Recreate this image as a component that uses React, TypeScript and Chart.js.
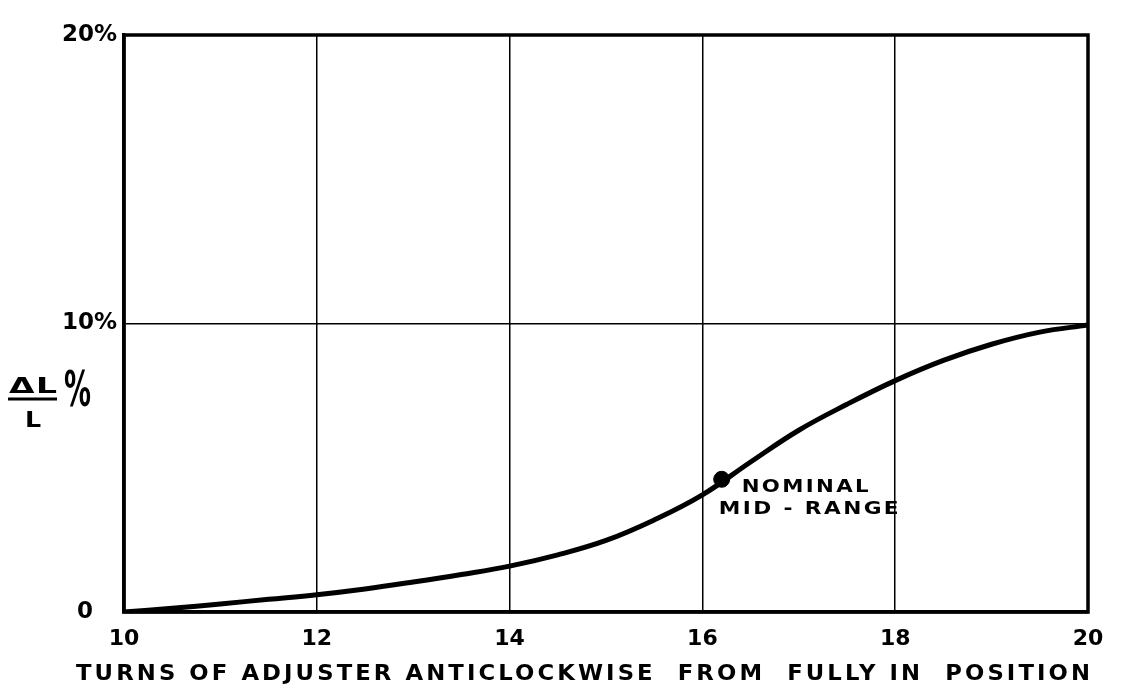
import React, { useEffect, useRef } from "react";
import { Chart, registerables } from "chart.js";

Chart.register(...registerables);

// ---- data ----
const turns = [10, 10.5, 11, 11.5, 12, 12.5, 13, 13.5, 14, 14.5, 15, 15.5, 16, 16.5, 17, 17.5, 18, 18.5, 19, 19.5, 20];
const deltaPct = [0, 0.13, 0.28, 0.44, 0.6, 0.8, 1.04, 1.3, 1.59, 1.98, 2.48, 3.19, 4.06, 5.2, 6.3, 7.2, 8.02, 8.72, 9.28, 9.7, 9.95];
const nominalTurn = [16.2];
const nominalPct = [4.6];
const xTicks = [10, 12, 14, 16, 18, 20];
const yTicks = [0, 10, 20];
const yTickLabels = ["0   ", "10%", "20%"];
const xTitle = "TURNS OF ADJUSTER ANTICLOCKWISE  FROM  FULLY IN  POSITION";
const noteLines = ["NOMINAL", "MID - RANGE"];
const yLabelTop = "ΔL";
const yLabelBottom = "L";
const yLabelPct = "%";

const FONT = '"DejaVu Sans", sans-serif';

// draw text stretched horizontally so it spans [x0, x1]
function fitText(ctx: CanvasRenderingContext2D, text: string, x0: number, x1: number, y: number, spacing: number) {
  (ctx as any).letterSpacing = spacing + "px";
  const w = ctx.measureText(text).width - spacing;
  const s = (x1 - x0) / w;
  ctx.save();
  ctx.translate(x0, y);
  ctx.scale(s, 1);
  ctx.textAlign = "left";
  ctx.fillText(text, 0, 0);
  ctx.restore();
  (ctx as any).letterSpacing = "0px";
}

const decorPlugin = {
  id: "decor",
  beforeDatasetsDraw(chart: any) {
    const { ctx, chartArea: a } = chart;
    ctx.save();
    ctx.strokeStyle = "#000";
    ctx.lineWidth = 3.5;
    ctx.strokeRect(a.left, a.top, a.right - a.left, a.bottom - a.top);
    ctx.restore();
  },
  afterDraw(chart: any) {
    const { ctx, scales } = chart;
    ctx.save();
    ctx.fillStyle = "#000";
    ctx.textBaseline = "alphabetic";

    // x axis title
    ctx.font = `bold 22px ${FONT}`;
    fitText(ctx, xTitle, 76, 1090, 680, 3);

    // nominal annotation
    const px = scales.x.getPixelForValue(nominalTurn[0]);
    const py = scales.y.getPixelForValue(nominalPct[0]);
    ctx.font = `bold 18px ${FONT}`;
    fitText(ctx, noteLines[0], px + 20, px + 147, py + 13, 2);
    fitText(ctx, noteLines[1], px - 3, px + 177, py + 35, 2);

    // y label: ΔL / L  %
    ctx.font = `bold 22px ${FONT}`;
    fitText(ctx, yLabelTop, 9, 57, 393, 1);
    ctx.save();
    ctx.translate(25, 427);
    ctx.scale(1.15, 1);
    ctx.textAlign = "left";
    ctx.fillText(yLabelBottom, 0, 0);
    ctx.restore();
    ctx.strokeStyle = "#000";
    ctx.lineWidth = 3;
    ctx.beginPath();
    ctx.moveTo(8, 399);
    ctx.lineTo(57, 399);
    ctx.stroke();

    ctx.font = `bold 46px ${FONT}`;
    const w = ctx.measureText(yLabelPct).width;
    ctx.save();
    ctx.translate(64, 406);
    ctx.scale(27 / w, 1.1);
    ctx.fillText(yLabelPct, 0, 0);
    ctx.restore();

    ctx.restore();
  },
};

export default function App() {
  const ref = useRef<HTMLCanvasElement | null>(null);

  useEffect(() => {
    if (!ref.current) return;
    const chart = new Chart(ref.current, {
      type: "line",
      data: {
        datasets: [
          {
            data: turns.map((t, i) => ({ x: t, y: deltaPct[i] })),
            borderColor: "#000",
            borderWidth: 5,
            pointRadius: 0,
            tension: 0.4,
            fill: false,
          },
          {
            data: nominalTurn.map((t, i) => ({ x: t, y: nominalPct[i] })),
            showLine: false,
            pointRadius: 8,
            pointBackgroundColor: "#000",
            pointBorderColor: "#000",
          },
        ],
      },
      options: {
        responsive: false,
        animation: false,
        layout: { padding: { left: 0, right: 34, top: 35, bottom: 0 } },
        plugins: { legend: { display: false }, tooltip: { enabled: false }, title: { display: false } },
        scales: {
          x: {
            type: "linear",
            min: 10,
            max: 20,
            afterFit: (axis: any) => {
              axis.height = 72;
            },
            afterBuildTicks: (axis: any) => {
              axis.ticks = xTicks.map((v) => ({ value: v }));
            },
            ticks: {
              autoSkip: false,
              maxRotation: 0,
              padding: 14,
              color: "#000",
              font: { family: FONT, size: 22, weight: "bold" },
              callback: (v: any) => String(v),
            },
            grid: {
              drawTicks: false,
              lineWidth: 1.5,
              color: (c: any) => (c.tick && (c.tick.value === 10 || c.tick.value === 20) ? "rgba(0,0,0,0)" : "#000"),
            },
            border: { display: true, color: "#000", width: 3.5 },
          },
          y: {
            type: "linear",
            min: 0,
            max: 20,
            afterFit: (axis: any) => {
              axis.width = 124;
            },
            afterBuildTicks: (axis: any) => {
              axis.ticks = yTicks.map((v) => ({ value: v }));
            },
            ticks: {
              padding: 7,
              color: "#000",
              font: { family: FONT, size: 23, weight: "bold" },
              callback: (v: any) => yTickLabels[yTicks.indexOf(v)] ?? "",
            },
            grid: {
              drawTicks: false,
              lineWidth: 1.5,
              color: (c: any) => (c.tick && c.tick.value === 10 ? "#000" : "rgba(0,0,0,0)"),
            },
            border: { display: true, color: "#000", width: 3.5 },
          },
        },
      },
      plugins: [decorPlugin],
    } as any);
    return () => chart.destroy();
  }, []);

  return (
    <div style={{ position: "absolute", left: 0, top: 0, width: 1122, height: 684, background: "#fff" }}>
      <canvas ref={ref} width={1122} height={684} style={{ display: "block" }} />
    </div>
  );
}
